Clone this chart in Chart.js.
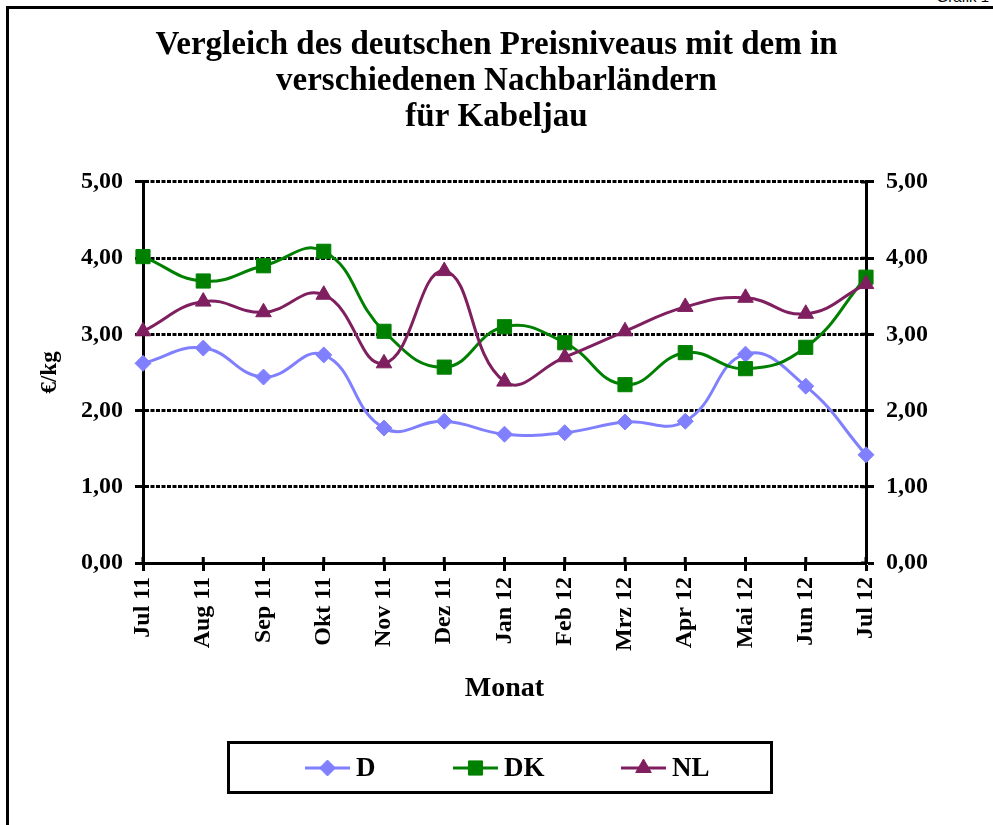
<!DOCTYPE html>
<html>
<head>
<meta charset="utf-8">
<script src="https://cdn.jsdelivr.net/npm/chart.js@4.4.1/dist/chart.umd.min.js"></script>
<style>
    html, body { margin: 0; padding: 0; background: #fff; overflow: hidden; }
    #wrap { position: relative; width: 993px; height: 825px; }
    #frame { position: absolute; left: 6px; top: 6px; width: 1100px; height: 1000px; border: 3px solid #000; box-sizing: border-box; }
    #sheet { position: absolute; right: 4px; top: -12px; font: 15px "Liberation Sans", Arial, sans-serif; color: #000; }
    #chart { position: absolute; left: 0; top: 0; }
</style>
</head>
<body>
<div id="wrap">
    <div id="frame"></div>
    <div id="sheet">Grafik 1</div>
    <canvas id="chart" width="993" height="825"></canvas>
</div>
<script>
/**
 * Data
 */
const months = ['Jul 11', 'Aug 11', 'Sep 11', 'Okt 11', 'Nov 11', 'Dez 11', 'Jan 12', 'Feb 12', 'Mrz 12', 'Apr 12', 'Mai 12', 'Jun 12', 'Jul 12'];
const valuesD = [2.62, 2.82, 2.44, 2.73, 1.77, 1.86, 1.69, 1.71, 1.85, 1.86, 2.74, 2.32, 1.42];
const valuesDK = [4.02, 3.70, 3.90, 4.09, 3.04, 2.57, 3.10, 2.89, 2.34, 2.76, 2.55, 2.83, 3.75];
const valuesNL = [3.04, 3.43, 3.29, 3.52, 2.62, 3.83, 2.38, 2.70, 3.04, 3.36, 3.48, 3.27, 3.66];
const yTickLabels = ['0,00', '1,00', '2,00', '3,00', '4,00', '5,00'];
const titleLines = ['Vergleich des deutschen Preisniveaus mit dem in', 'verschiedenen Nachbarländern', 'für Kabeljau'];

const serif = '"Liberation Serif", "Times New Roman", serif';

/**
 * Legend drawn in an Excel-like box under the chart
 */
const boxLegend = {
    id: 'boxLegend',
    afterDraw(chart) {
        const ctx = chart.ctx;
        const items = chart.data.datasets;
        const xs = [305, 453, 621];

        ctx.save();
        ctx.lineWidth = 3;
        ctx.strokeStyle = '#000';
        ctx.strokeRect(228.5, 742.5, 543, 50);

        for (let i = 0; i < items.length; i++) {
            const ds = items[i];
            const x = xs[i];
            const y = 768;
            ctx.strokeStyle = ds.borderColor;
            ctx.lineWidth = 3;
            ctx.beginPath();
            ctx.moveTo(x, y);
            ctx.lineTo(x + 45, y);
            ctx.stroke();
            ctx.fillStyle = ds.backgroundColor;
            ctx.strokeStyle = ds.borderColor;
            ctx.lineWidth = 1;
            Chart.helpers.drawPoint(ctx, {pointStyle: ds.pointStyle, radius: ds.pointRadius, borderWidth: 1}, x + 22.5, y);
            ctx.fillStyle = '#000';
            ctx.font = 'bold 27px ' + serif;
            ctx.textBaseline = 'middle';
            ctx.textAlign = 'left';
            ctx.fillText(ds.label, x + 51, y + 1);
        }
        ctx.restore();
    }
};

/**
 * Tick marks that cross into the plot (x axis and right axis)
 */
const innerTicks = {
    id: 'innerTicks',
    afterDatasetsDraw(chart) {
        const ctx = chart.ctx;
        const xs = chart.scales.x;
        const yr = chart.scales.y2;
        ctx.save();
        ctx.strokeStyle = '#000';
        ctx.lineWidth = 3;
        ctx.beginPath();
        xs.ticks.forEach((t, i) => {
            const px = xs.getPixelForTick(i);
            ctx.moveTo(px, xs.top);
            ctx.lineTo(px, xs.top - 6);
        });
        yr.ticks.forEach((t, i) => {
            const py = yr.getPixelForTick(i);
            ctx.moveTo(yr.left, py);
            ctx.lineTo(yr.left - 5, py);
        });
        ctx.stroke();
        ctx.restore();
    }
};

const tickFont = {family: serif, size: 24, weight: 'bold'};

new Chart(document.getElementById('chart'), {
    type: 'line',
    data: {
        labels: months,
        datasets: [
            {
                label: 'D',
                data: valuesD,
                borderColor: '#8080FF',
                backgroundColor: '#8080FF',
                pointStyle: 'rectRot',
                pointRadius: 8,
                order: 3
            },
            {
                label: 'DK',
                data: valuesDK,
                borderColor: '#008000',
                backgroundColor: '#008000',
                pointStyle: 'rect',
                pointRadius: 10,
                order: 2
            },
            {
                label: 'NL',
                data: valuesNL,
                borderColor: '#7F1F5F',
                backgroundColor: '#7F1F5F',
                pointStyle: 'triangle',
                pointRadius: 9,
                order: 1
            }
        ]
    },
    options: {
        responsive: false,
        animation: false,
        layout: {padding: {left: 30, right: 30, top: 0, bottom: 112}},
        elements: {
            line: {borderWidth: 3, tension: 0.45, fill: false},
            point: {borderWidth: 1, hoverRadius: 9}
        },
        plugins: {
            legend: {display: false},
            tooltip: {enabled: false},
            title: {
                display: true,
                text: titleLines,
                color: '#000',
                font: {family: serif, size: 33, weight: 'bold', lineHeight: 1.08},
                padding: {top: 28, bottom: 47}
            }
        },
        scales: {
            x: {
                type: 'category',
                offset: false,
                grid: {display: true, drawOnChartArea: false, tickLength: 8, tickColor: '#000', tickWidth: 3},
                border: {display: true, color: '#000', width: 3},
                ticks: {color: '#000', font: tickFont, maxRotation: 90, minRotation: 90, padding: 6, autoSkip: false},
                title: {display: true, text: 'Monat', color: '#000', font: {family: serif, size: 28, weight: 'bold'}, padding: {top: 0, bottom: 7}},
                afterFit(scale) { scale.height = 150; }
            },
            y: {
                position: 'left',
                min: 0,
                max: 5,
                grid: {
                    display: true,
                    color: (c) => c.tick && c.tick.value === 0 ? 'rgba(0,0,0,0)' : '#000',
                    lineWidth: 3,
                    tickLength: 8,
                    tickColor: '#000',
                    tickWidth: 3
                },
                border: {display: true, color: '#000', width: 3, dash: [4, 1.5]},
                ticks: {
                    color: '#000', font: tickFont, stepSize: 1, padding: 12,
                    callback: (v, i) => yTickLabels[i]
                },
                title: {display: true, text: '€/kg', color: '#000', font: {family: serif, size: 23, weight: 'bold'}, padding: {top: 6, bottom: 0}},
                afterFit(scale) { scale.width = 113; }
            },
            y2: {
                position: 'right',
                min: 0,
                max: 5,
                grid: {display: true, drawOnChartArea: false, tickLength: 8, tickColor: '#000', tickWidth: 3},
                border: {display: true, color: '#000', width: 3},
                ticks: {
                    color: '#000', font: tickFont, stepSize: 1, padding: 12,
                    callback: (v, i) => yTickLabels[i]
                },
                afterFit(scale) { scale.width = 97; }
            }
        }
    },
    plugins: [boxLegend, innerTicks]
});
</script>
</body>
</html>
